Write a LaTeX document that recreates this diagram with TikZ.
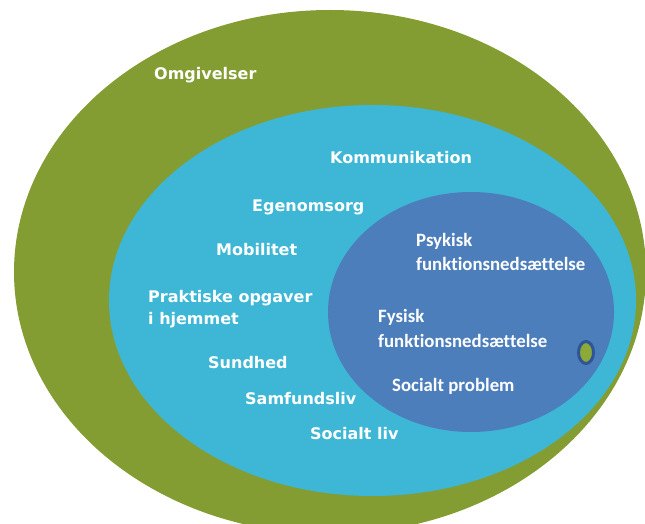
\documentclass[tikz,border=0pt]{standalone}
\usepackage{fontspec}
\usepackage{tikz}
\newfontfamily\lblfont{DejaVu Sans}
\newfontfamily\inlblfont{Carlito}[Ligatures=NoCommon]
\definecolor{omgreen}{HTML}{849D33}
\definecolor{aktcyan}{HTML}{3DB7D5}
\definecolor{funblue}{HTML}{4D7EBC}
\definecolor{dotblue}{HTML}{2F5595}
\definecolor{dotgreen}{HTML}{8CAA38}

\begin{document}
\begin{tikzpicture}[x = 1pt, y = -1pt,
		lbl/.style = {text = white, inner sep = 0pt, anchor = base west, align = left,
			font = \lblfont\bfseries\fontsize{16}{22}\selectfont},
		inlbl/.style = {text = white, inner sep = 0pt, anchor = base west, align = left,
			font = \inlblfont\bfseries\fontsize{18.8}{24.5}\selectfont}]
		
		\useasboundingbox (0, 0) rectangle (645, 524);
		
		% the three areas
		\fill[omgreen] (330, 272) ellipse [x radius = 316, y radius = 262];
		\fill[aktcyan] (372.5, 300.5) ellipse [x radius = 263.5, y radius = 195.5];
		\fill[funblue] (471, 312) ellipse [x radius = 143, y radius = 120];
		
		% small dot
		\draw[dotblue, line width = 3pt, fill = dotgreen] (586, 352.5) ellipse [x radius = 7.5, y radius = 11];
		
		\node[lbl] (omg) at (154, 80) {Omgivelser};
		
		\node[lbl] (kom) at (330, 164) {Kommunikation};
		\node[lbl] (ego) at (252, 211) {Egenomsorg};
		\node[lbl] (mob) at (216, 255) {Mobilitet};
		\node[lbl] (prak) at (148, 324) {Praktiske opgaver\\i hjemmet};
		\node[lbl] (sund) at (208, 368) {Sundhed};
		\node[lbl] (samf) at (245, 404) {Samfundsliv};
		\node[lbl] (socliv) at (310, 439) {Socialt liv};
		
		% last line carries the base anchor
		\node[inlbl] (psyk) at (416, 270.5) {Psykisk\\funktionsneds\ae ttelse};
		\node[inlbl] (fys) at (378, 347) {Fysisk\\funktionsneds\ae ttelse};
		\node[inlbl] (socprob) at (392, 391) {Socialt problem};
	\end{tikzpicture}
\end{document}
